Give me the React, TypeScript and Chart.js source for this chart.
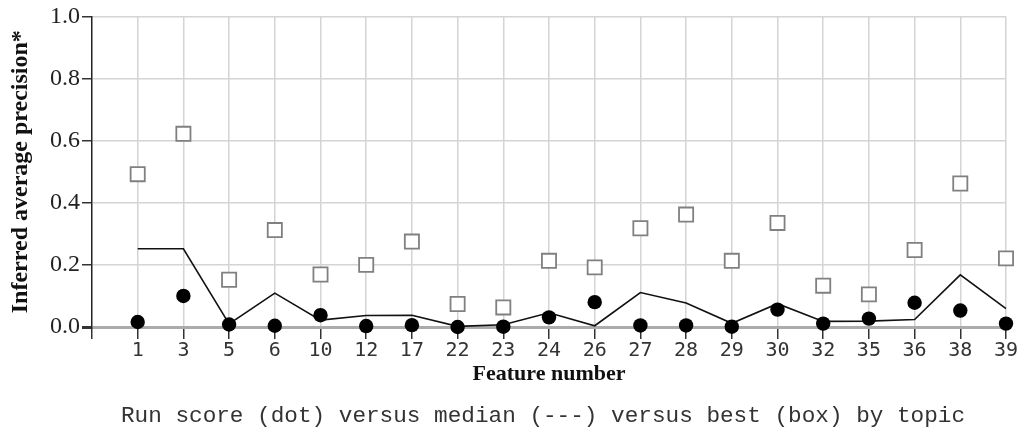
import React, { useEffect, useRef } from "react";
import { Chart, registerables } from "chart.js";

Chart.register(...registerables);

const categories = ["1", "3", "5", "6", "10", "12", "17", "22", "23", "24", "26", "27", "28", "29", "30", "32", "35", "36", "38", "39"];
const runScore = [0.016, 0.10, 0.008, 0.004, 0.038, 0.003, 0.006, 0.0, 0.001, 0.031, 0.080, 0.005, 0.005, 0.001, 0.056, 0.011, 0.027, 0.078, 0.053, 0.011];
const medianScore = [0.252, 0.252, 0.010, 0.109, 0.022, 0.037, 0.038, 0.002, 0.007, 0.046, 0.004, 0.111, 0.077, 0.012, 0.075, 0.018, 0.019, 0.024, 0.168, 0.059];
const bestScore = [0.492, 0.622, 0.152, 0.312, 0.169, 0.200, 0.275, 0.074, 0.063, 0.213, 0.192, 0.318, 0.362, 0.213, 0.335, 0.133, 0.105, 0.248, 0.462, 0.221];

const yTitle = "Inferred average precision*";
const xTitle = "Feature number";
const caption = "Run score (dot) versus median (---) versus best (box) by topic";

const toPoints = (arr: number[]) => arr.map((v, i) => ({ x: i, y: v }));

const captionPlugin = {
  id: "captionPlugin",
  afterDraw(chart: any) {
    const ctx = chart.ctx;
    ctx.save();
    ctx.font = "22.7px 'Liberation Mono', monospace";
    ctx.fillStyle = "#333";
    ctx.textAlign = "center";
    ctx.textBaseline = "middle";
    ctx.fillText(caption, 543, 416);
    ctx.restore();
  },
};

export default function App() {
  const ref = useRef<HTMLCanvasElement>(null);
  useEffect(() => {
    if (!ref.current) return;
    const chart = new Chart(ref.current, {
      type: "line",
      data: {
        datasets: [
          {
            label: "run",
            data: toPoints(runScore),
            showLine: false,
            pointStyle: "circle",
            pointRadius: 7.2,
            pointBackgroundColor: "#000",
            pointBorderColor: "#000",
            pointBorderWidth: 0,
            clip: false,
            order: 0,
          },
          {
            label: "median",
            data: toPoints(medianScore),
            borderColor: "#111",
            borderWidth: 1.6,
            pointRadius: 0,
            tension: 0,
            fill: false,
            clip: false,
            order: 2,
          },
          {
            label: "best",
            data: toPoints(bestScore),
            showLine: false,
            pointStyle: "rect",
            pointRadius: 10,
            pointBackgroundColor: "#fff",
            pointBorderColor: "#808080",
            pointBorderWidth: 1.8,
            clip: false,
            order: 1,
          },
        ],
      },
      options: {
        animation: false,
        responsive: false,
        devicePixelRatio: 1,
        layout: { padding: { left: 0, top: 16, right: 18, bottom: 0 } },
        plugins: {
          legend: { display: false },
          tooltip: { enabled: false },
        },
        scales: {
          x: {
            type: "linear",
            min: -1,
            max: 19,
            afterBuildTicks: (scale: any) => {
              const t = [];
              for (let i = -1; i <= 19; i++) t.push({ value: i });
              scale.ticks = t;
            },
            afterFit: (scale: any) => {
              scale.height = 108;
            },
            ticks: {
              autoSkip: false,
              maxRotation: 0,
              padding: 0,
              color: "#333",
              font: { family: "'DejaVu Sans Mono', monospace", size: 20 },
              callback: (v: any) => (v >= 0 ? categories[v] : ""),
            },
            grid: {
              color: (c: any) => (c.tick && c.tick.value === -1 ? "rgba(0,0,0,0)" : "#d4d4d4"),
              lineWidth: 1.5,
              tickColor: "#333",
              tickLength: 12,
            },
            border: { display: false },
            title: {
              display: true,
              text: xTitle,
              color: "#111",
              font: { family: "'Liberation Serif', serif", size: 22, weight: "bold" },
              padding: { top: 0, bottom: 47 },
            },
          },
          y: {
            min: 0,
            max: 1,
            afterBuildTicks: (scale: any) => {
              const t = [];
              for (let i = 0; i <= 10; i++) t.push({ value: i / 10 });
              scale.ticks = t;
            },
            afterFit: (scale: any) => {
              scale.width = 92;
            },
            ticks: {
              padding: 2,
              color: "#222",
              font: { family: "'Liberation Serif', serif", size: 24 },
              callback: (v: any) => {
                const n = Math.round(Number(v) * 10);
                return n % 2 === 0 ? (n / 10).toFixed(1) : "";
              },
            },
            grid: {
              color: (c: any) => (c.tick && c.tick.value === 0 ? "#ababab" : "#d4d4d4"),
              lineWidth: (c: any) => (c.tick && c.tick.value === 0 ? 3 : 1.5),
              tickColor: "#333",
              tickLength: 10,
            },
            border: { display: true, color: "#222", width: 1.5 },
            title: {
              display: true,
              text: yTitle,
              color: "#111",
              font: { family: "'Liberation Serif', serif", size: 24, weight: "bold" },
              padding: { top: 6, bottom: 0 },
            },
          },
        },
      },
      plugins: [captionPlugin],
    } as any);
    return () => chart.destroy();
  }, []);
  return (
    <div style={{ position: "absolute", left: 0, top: 0, width: 1024, height: 435, background: "#fff" }}>
      <canvas ref={ref} width={1024} height={435} />
    </div>
  );
}
